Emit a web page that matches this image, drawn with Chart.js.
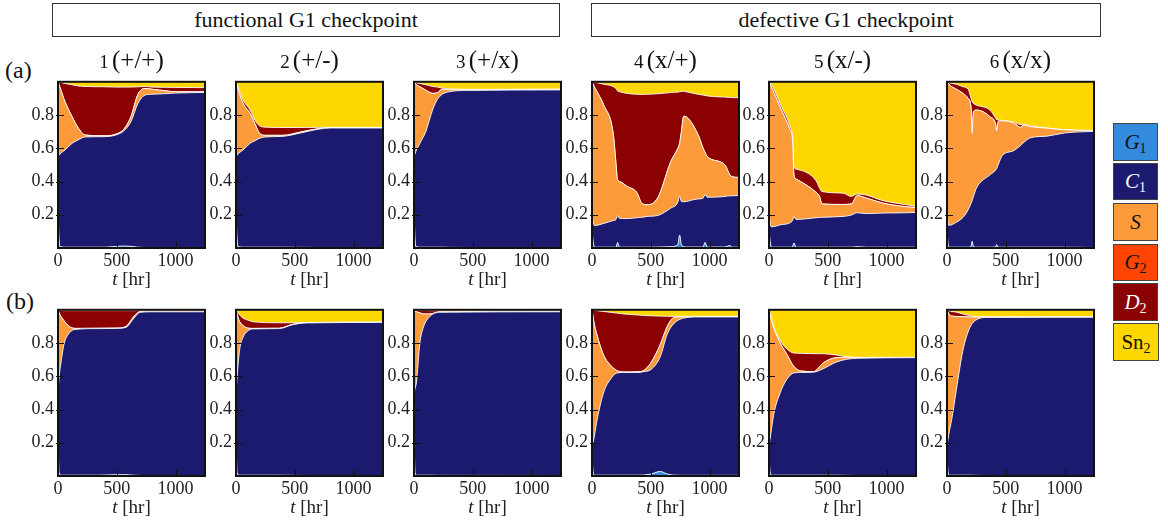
<!DOCTYPE html>
<html><head><meta charset="utf-8">
<script src="https://cdn.jsdelivr.net/npm/chart.js"></script>
<style>
body{margin:0;background:#fff;width:1168px;height:525px;overflow:hidden;position:relative;font-family:"Liberation Serif",serif;color:#111;}
canvas{position:absolute;}
.box{position:absolute;top:3px;height:34px;border:1px solid #333;box-sizing:border-box;text-align:center;font-size:22px;line-height:31px;}
.ct{position:absolute;top:45px;width:147px;height:30px;line-height:30px;text-align:center;white-space:nowrap;}
.ct .n{font-size:19px}
.ct .p{font-size:25px}
.rl{position:absolute;font-size:24px;}
.leg{position:absolute;left:1113px;width:45px;box-sizing:border-box;border:1.5px solid #444;display:flex;align-items:center;justify-content:center;font-size:21px;}
.leg span{display:inline-block;white-space:nowrap;}
.leg sub{font-size:14px;font-style:normal;vertical-align:-4px;line-height:0;}
</style></head><body>
<div class="box" style="left:52px;width:508px">functional G1 checkpoint</div>
<div class="box" style="left:591px;width:510px">defective G1 checkpoint</div>
<div class="rl" style="left:5px;top:57px">(a)</div>
<div class="rl" style="left:6px;top:288px">(b)</div>
<div class="leg" style="top:123px;height:38px;background:#348ADC;color:#111"><span><i>G</i><sub>1</sub></span></div>
<div class="leg" style="top:163px;height:37px;background:#1B1A6F;color:#fff"><span><i>C</i><sub>1</sub></span></div>
<div class="leg" style="top:203px;height:38px;background:#FD9A3A;color:#111"><span><i>S</i></span></div>
<div class="leg" style="top:244px;height:37px;background:#FF4500;color:#111"><span><i>G</i><sub>2</sub></span></div>
<div class="leg" style="top:283px;height:38px;background:#8B0000;color:#fff"><span><i>D</i><sub>2</sub></span></div>
<div class="leg" style="top:323px;height:38px;width:46px;background:#FFD700;color:#111"><span>Sn<sub>2</sub></span></div>
<script>
// ---------- data: fractions of cells in each phase ----------
const NAMES = ['G1','C1','S','G2','D2','Sn2'];
const COLORS = ['#348ADC','#1B1A6F','#FD9A3A','#FF4500','#8B0000','#FFD700'];
const X_TICKS = [0,500,1000];
const Y_TICKS = [0.2,0.4,0.6,0.8];
const COL_TITLES = [['1','(+/+)'],['2','(+/-)'],['3','(+/x)'],['4','(x/+)'],['5','(x/-)'],['6','(x/x)']];

// (a) row
const T_A1 = [0,15,60,120,170,230,400,500,560,620,680,740,800,900,1000,1250];
const G1_A1 = [.2,.01,.005,.005,.005,.005,.005,.01,.012,.01,.005,.003,.003,.003,.003,.003];
const C1_A1 = [.35,.555,.585,.625,.645,.663,.665,.672,.693,.75,.865,.917,.922,.925,.929,.933];
const S_A1 = [.45,.405,.29,.16,.075,.012,.005,.005,.01,.03,.055,.04,.03,.019,.008,.004];
const G2_A1 = [0,0,0,0,0,0,0,0,0,0,0,0,0,0,0,0];
const D2_A1 = [0,.028,.11,.192,.25,.292,.295,.281,.253,.178,.045,.012,.013,.02,.026,.025];
const SN2_A1 = [0,.002,.01,.018,.025,.028,.03,.032,.032,.032,.03,.028,.032,.033,.034,.035];

const T_A2 = [0,15,60,120,160,200,250,400,550,700,800,1250];
const G1_A2 = [.2,.01,.005,.005,.005,.005,.005,.005,.004,.003,.003,.003];
const C1_A2 = [.35,.555,.585,.625,.64,.655,.663,.667,.688,.712,.719,.719];
const S_A2 = [.45,.395,.28,.18,.105,.03,.01,.006,.006,.003,.002,.002];
const G2_A2 = [0,0,0,0,0,0,0,0,0,0,0,0];
const D2_A2 = [0,.015,.02,.02,.02,.045,.049,.047,.027,.008,.002,.002];
const SN2_A2 = [0,.025,.11,.17,.23,.265,.273,.275,.275,.274,.274,.274];

const T_A3 = [0,15,50,100,160,200,240,300,450,1250];
const G1_A3 = [.2,.01,.005,.005,.005,.005,.005,.004,.003,.003];
const C1_A3 = [.35,.57,.625,.695,.83,.89,.92,.936,.945,.948];
const S_A3 = [.45,.405,.34,.25,.095,.04,.03,.012,.005,.004];
const G2_A3 = [0,0,0,0,0,0,0,0,0,0];
const D2_A3 = [0,.01,.02,.032,.042,.033,.007,.006,.002,0];
const SN2_A3 = [0,.005,.01,.018,.028,.032,.038,.042,.045,.045];

const T_A4 = [0,20,100,180,205,217,235,300,380,425,470,560,670,730,745,760,780,800,900,945,961,980,1130,1172,1190,1250];
const G1_A4 = [.1,.005,.005,.005,.005,.033,.005,.005,.005,.005,.005,.006,.008,.02,.078,.02,.008,.006,.006,.006,.033,.006,.006,.015,.005,.005];
const C1_A4 = [.1,.13,.143,.16,.167,.162,.173,.172,.177,.18,.185,.19,.232,.255,.234,.26,.27,.274,.289,.294,.289,.299,.304,.299,.309,.311];
const S_A4 = [.8,.835,.712,.525,.328,.215,.222,.193,.153,.083,.07,.107,.28,.325,.318,.42,.515,.51,.39,.3,.254,.245,.19,.126,.116,.108];
const G2_A4 = [0,0,0,0,0,0,0,0,0,0,0,0,0,0,0,0,0,0,0,0,0,0,0,0,0,0];
const D2_A4 = [0,.028,.125,.282,.458,.535,.54,.56,.59,.656,.665,.625,.415,.338,.31,.242,.15,.15,.24,.32,.342,.365,.408,.466,.475,.48];
const SN2_A4 = [0,.002,.015,.028,.042,.055,.06,.07,.075,.076,.075,.072,.065,.062,.06,.058,.057,.06,.075,.08,.082,.085,.092,.094,.095,.096];

const T_A5 = [0,20,100,180,200,212,230,400,430,450,630,700,750,830,970,1170,1250];
const G1_A5 = [.1,.005,.005,.005,.008,.03,.005,.005,.005,.005,.005,.005,.008,.005,.005,.005,.005];
const C1_A5 = [.1,.122,.135,.147,.157,.159,.167,.177,.179,.18,.185,.193,.204,.202,.205,.207,.209];
const S_A5 = [.8,.843,.7,.558,.485,.251,.243,.153,.126,.08,.072,.067,.103,.093,.06,.036,.03];
const G2_A5 = [0,0,0,0,0,0,0,0,0,0,0,0,0,0,0,0,0];
const D2_A5 = [0,.015,.02,.02,.02,.05,.06,.07,.05,.075,.068,.045,.01,.018,.015,.012,.006];
const SN2_A5 = [0,.015,.14,.27,.33,.51,.525,.595,.64,.66,.67,.69,.675,.682,.715,.74,.75];

const T_A6 = [0,15,80,137,180,205,214,225,250,365,415,422,435,470,565,630,645,710,850,1000,1250];
const G1_A6 = [.1,.005,.005,.005,.005,.01,.04,.008,.005,.005,.008,.02,.005,.005,.005,.005,.005,.005,.005,.005,.003];
const C1_A6 = [.1,.131,.15,.18,.225,.26,.245,.302,.355,.435,.462,.458,.495,.551,.58,.615,.625,.658,.668,.687,.699];
const S_A6 = [.8,.849,.8,.745,.67,.57,.405,.51,.47,.35,.27,.227,.26,.209,.167,.105,.11,.067,.048,.019,.004];
const G2_A6 = [0,0,0,0,0,0,0,0,0,0,0,0,0,0,0,0,0,0,0,0,0];
const D2_A6 = [0,.01,.03,.04,.055,.06,.19,.05,.03,.04,.04,.067,.01,.003,.006,.017,.005,.005,.001,.001,0];
const SN2_A6 = [0,.005,.015,.03,.045,.1,.12,.13,.14,.17,.22,.228,.23,.232,.242,.258,.255,.265,.278,.288,.294];

// (b) row
const T_B1 = [0,10,25,50,95,150,350,500,580,640,700,800,1250];
const G1_B1 = [.2,.02,.005,.005,.005,.005,.005,.008,.008,.005,.003,.003,.003];
const C1_B1 = [.3,.58,.675,.785,.855,.877,.882,.88,.887,.94,.982,.985,.985];
const S_B1 = [.5,.38,.28,.145,.04,.006,.002,.002,.005,.01,.005,.005,.006];
const G2_B1 = [0,0,0,0,0,0,0,0,0,0,0,0,0];
const D2_B1 = [0,.018,.036,.06,.095,.107,.106,.105,.095,.04,.006,.004,.003];
const SN2_B1 = [0,.002,.004,.005,.005,.005,.005,.005,.005,.005,.004,.003,.003];

const T_B2 = [0,10,30,60,100,145,370,480,600,1250];
const G1_B2 = [.2,.02,.005,.005,.005,.005,.005,.004,.003,.003];
const C1_B2 = [.3,.58,.75,.83,.868,.88,.882,.906,.918,.921];
const S_B2 = [.5,.37,.175,.07,.017,.003,.002,.002,.001,.001];
const G2_B2 = [0,0,0,0,0,0,0,0,0,0];
const D2_B2 = [0,.02,.04,.045,.048,.04,.033,.01,.002,.001];
const SN2_B2 = [0,.01,.03,.05,.062,.072,.078,.078,.076,.074];

const T_B3 = [0,10,20,50,80,135,220,1250];
const G1_B3 = [.2,.02,.005,.005,.005,.005,.004,.003];
const C1_B3 = [.3,.51,.555,.795,.89,.955,.981,.985];
const S_B3 = [.5,.46,.428,.182,.08,.015,.003,.002];
const G2_B3 = [0,0,0,0,0,0,0,0];
const D2_B3 = [0,.009,.01,.015,.021,.02,.006,.004];
const SN2_B3 = [0,.001,.002,.003,.004,.005,.006,.006];

const T_B4 = [0,15,40,100,155,210,270,400,440,500,580,640,700,780,900,1250];
const G1_B4 = [.1,.005,.005,.005,.005,.005,.005,.005,.006,.012,.027,.012,.005,.004,.004,.004];
const C1_B4 = [.08,.215,.321,.5,.575,.614,.618,.618,.622,.628,.69,.842,.915,.946,.953,.953];
const S_B4 = [.82,.71,.528,.22,.088,.016,.003,.005,.007,.04,.073,.046,.035,.008,.002,.002];
const G2_B4 = [0,0,0,0,0,0,0,0,0,0,0,0,0,0,0,0];
const D2_B4 = [0,.068,.141,.265,.317,.345,.349,.34,.331,.284,.172,.061,.006,.003,.002,.002];
const SN2_B4 = [0,.002,.005,.01,.015,.02,.025,.032,.034,.036,.038,.039,.039,.039,.039,.039];

const T_B5 = [0,15,40,95,150,210,270,380,460,570,660,750,1250];
const G1_B5 = [.1,.005,.005,.005,.005,.005,.005,.005,.005,.005,.004,.003,.003];
const C1_B5 = [.08,.245,.365,.495,.575,.615,.618,.62,.64,.68,.698,.705,.709];
const S_B5 = [.82,.7,.52,.3,.155,.04,.009,.003,.035,.027,.012,.005,.001];
const G2_B5 = [0,0,0,0,0,0,0,0,0,0,0,0,0];
const D2_B5 = [0,.02,.01,.015,.03,.08,.106,.108,.056,.016,.004,.001,.001];
const SN2_B5 = [0,.03,.1,.185,.235,.26,.262,.264,.264,.272,.282,.286,.286];

const T_B6 = [0,15,40,80,135,195,250,340,1250];
const G1_B6 = [.1,.005,.005,.005,.005,.005,.004,.003,.003];
const C1_B6 = [.08,.245,.335,.515,.75,.888,.936,.951,.952];
const S_B6 = [.82,.725,.622,.44,.203,.064,.016,.002,.001];
const G2_B6 = [0,0,0,0,0,0,0,0,0];
const D2_B6 = [0,.02,.028,.026,.017,.008,.002,.001,.001];
const SN2_B6 = [0,.005,.01,.014,.025,.035,.042,.043,.043];

const PANELS = [
  [T_A1,G1_A1,C1_A1,S_A1,G2_A1,D2_A1,SN2_A1],
  [T_A2,G1_A2,C1_A2,S_A2,G2_A2,D2_A2,SN2_A2],
  [T_A3,G1_A3,C1_A3,S_A3,G2_A3,D2_A3,SN2_A3],
  [T_A4,G1_A4,C1_A4,S_A4,G2_A4,D2_A4,SN2_A4],
  [T_A5,G1_A5,C1_A5,S_A5,G2_A5,D2_A5,SN2_A5],
  [T_A6,G1_A6,C1_A6,S_A6,G2_A6,D2_A6,SN2_A6],
  [T_B1,G1_B1,C1_B1,S_B1,G2_B1,D2_B1,SN2_B1],
  [T_B2,G1_B2,C1_B2,S_B2,G2_B2,D2_B2,SN2_B2],
  [T_B3,G1_B3,C1_B3,S_B3,G2_B3,D2_B3,SN2_B3],
  [T_B4,G1_B4,C1_B4,S_B4,G2_B4,D2_B4,SN2_B4],
  [T_B5,G1_B5,C1_B5,S_B5,G2_B5,D2_B5,SN2_B5],
  [T_B6,G1_B6,C1_B6,S_B6,G2_B6,D2_B6,SN2_B6]
];

// ---------- layout ----------
const FONT = '"Liberation Serif", serif';
const PLOT_LEFT = [58, 236, 414, 592, 769, 947];
const ROW_TOP = [77, 305];
const PW = 147, PH = 171;
const PADL = 50, PADT = 10, PADR = 15, PADB = 52;

const framePlugin = {
  id: 'frame',
  afterDraw(chart) {
    const {ctx, chartArea: a, scales: {x, y}} = chart;
    ctx.save();
    ctx.strokeStyle = '#111';
    ctx.lineWidth = 1;
    ctx.beginPath();
    for (const v of X_TICKS) { const px = Math.round(x.getPixelForValue(v)) + 0.5; ctx.moveTo(px, a.bottom); ctx.lineTo(px, a.bottom - 6); }
    for (const v of Y_TICKS) { const py = Math.round(y.getPixelForValue(v)) + 0.5; ctx.moveTo(a.left - 2, py); ctx.lineTo(a.left + 6, py); }
    ctx.stroke();
    ctx.lineWidth = 2;
    ctx.strokeRect(a.left, a.top, a.right - a.left, a.bottom - a.top);
    // axis title: italic t [hr]
    const f1 = 'italic 19px ' + FONT, f2 = '19px ' + FONT;
    ctx.font = f1; const w1 = ctx.measureText('t').width;
    ctx.font = f2; const w2 = ctx.measureText(' [hr]').width;
    const cx = (a.left + a.right) / 2, x0 = cx - (w1 + w2) / 2, by = a.bottom + 37;
    ctx.fillStyle = '#222'; ctx.textBaseline = 'alphabetic'; ctx.textAlign = 'left';
    ctx.font = f1; ctx.fillText('t', x0, by);
    ctx.font = f2; ctx.fillText(' [hr]', x0 + w1, by);
    ctx.restore();
  }
};

PANELS.forEach((p, idx) => {
  const row = Math.floor(idx / 6), col = idx % 6;
  const L = PLOT_LEFT[col], T = ROW_TOP[row];
  const cv = document.createElement('canvas');
  cv.width = PADL + PW + PADR; cv.height = PADT + PH + PADB;
  cv.style.left = (L - PADL) + 'px'; cv.style.top = (T - PADT) + 'px';
  document.body.appendChild(cv);
  const t = p[0];
  const datasets = p.slice(1).map((arr, k) => ({
    label: NAMES[k],
    data: t.map((tv, i) => ({x: tv, y: arr[i]})),
    backgroundColor: COLORS[k],
    borderColor: 'rgba(255,255,255,0.85)',
    borderWidth: 1,
    fill: k === 0 ? 'origin' : '-1',
    pointRadius: 0,
    cubicInterpolationMode: 'monotone'
  }));
  new Chart(cv, {
    type: 'line',
    data: {datasets},
    options: {
      responsive: false, animation: false, devicePixelRatio: 1,
      layout: {padding: {left: 0, top: PADT, right: PADR, bottom: 0}},
      plugins: {legend: {display: false}, tooltip: {enabled: false}},
      scales: {
        x: {
          type: 'linear', min: 0, max: 1250,
          grid: {display: false, drawTicks: false}, border: {display: false},
          afterBuildTicks: s => { s.ticks = X_TICKS.map(v => ({value: v})); },
          afterFit: s => { s.height = PADB; },
          ticks: {autoSkip: false, maxRotation: 0, padding: 2, color: '#222', font: {family: FONT, size: 18}, callback: v => String(v)}
        },
        y: {
          stacked: true, min: 0, max: 1,
          grid: {display: false, drawTicks: false}, border: {display: false},
          afterBuildTicks: s => { s.ticks = Y_TICKS.map(v => ({value: v})); },
          afterFit: s => { s.width = PADL; },
          ticks: {padding: 4, color: '#222', font: {family: FONT, size: 18}, callback: v => Number(v).toFixed(1)}
        }
      }
    },
    plugins: [framePlugin]
  });
  if (row === 0) {
    const d = document.createElement('div');
    d.className = 'ct';
    d.style.left = L + 'px';
    d.innerHTML = '<span class="n">' + COL_TITLES[col][0] + '</span>&thinsp;<span class="p">' + COL_TITLES[col][1] + '</span>';
    document.body.appendChild(d);
  }
});
</script>
</body></html>
